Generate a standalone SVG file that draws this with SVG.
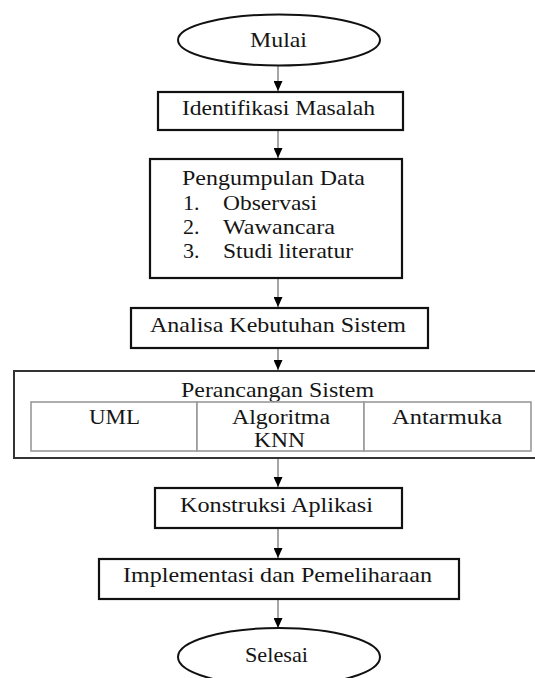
<svg xmlns="http://www.w3.org/2000/svg" width="535" height="678" viewBox="0 0 535 678">
<defs>
<marker id="ah" markerUnits="userSpaceOnUse" markerWidth="10" markerHeight="9" refX="10" refY="4.5" orient="auto">
<path d="M0,0 L10,4.5 L0,9 Z" fill="#000"/>
</marker>
<style>
.box{fill:#fff;stroke:#111;stroke-width:2.2}
.outer{fill:#fff;stroke:#333;stroke-width:2}
.cell{fill:#fff;stroke:#999;stroke-width:1.6}
.t{font-family:"Liberation Serif","Times New Roman",serif;font-size:22px;fill:#151515}
.s{font-size:20px}
.c{fill:none;stroke:#888;stroke-width:1.5;marker-end:url(#ah)}
</style>
</defs>
<rect width="535" height="678" fill="#fff"/>
<g id="connectors">
<line class="c" x1="278" y1="65" x2="278" y2="91"/>
<line class="c" x1="278" y1="131" x2="278" y2="158"/>
<line class="c" x1="278" y1="279" x2="278" y2="307"/>
<line class="c" x1="278" y1="349" x2="278" y2="370"/>
<line class="c" x1="278" y1="459" x2="278" y2="487"/>
<line class="c" x1="278" y1="529" x2="278" y2="558"/>
<line class="c" x1="278" y1="600" x2="278" y2="628"/>
</g>
<g id="mulai">
<ellipse cx="279" cy="40" rx="101" ry="25.5" fill="#fff" stroke="#111" stroke-width="2"/>
<text class="t" x="250" y="47" textLength="57" lengthAdjust="spacingAndGlyphs">Mulai</text>
</g>
<g id="identifikasi">
<rect class="box" x="158" y="92" width="245" height="38"/>
<text class="t" x="182" y="115" textLength="193" lengthAdjust="spacingAndGlyphs">Identifikasi Masalah</text>
</g>
<g id="pengumpulan">
<rect class="box" x="150" y="159" width="252" height="119"/>
<text class="t" x="182" y="185" textLength="183" lengthAdjust="spacingAndGlyphs">Pengumpulan Data</text>
<text class="t" x="183" y="210">1.</text>
<text class="t" x="223" y="210" textLength="94" lengthAdjust="spacingAndGlyphs">Observasi</text>
<text class="t" x="183" y="234">2.</text>
<text class="t" x="223" y="234" textLength="112" lengthAdjust="spacingAndGlyphs">Wawancara</text>
<text class="t" x="183" y="258">3.</text>
<text class="t" x="223" y="258" textLength="130" lengthAdjust="spacingAndGlyphs">Studi literatur</text>
</g>
<g id="analisa">
<rect class="box" x="131" y="308" width="297" height="40"/>
<text class="t" x="150" y="332" textLength="256" lengthAdjust="spacingAndGlyphs">Analisa Kebutuhan Sistem</text>
</g>
<g id="perancangan">
<rect class="outer" x="14" y="371" width="530" height="87"/>
<text class="t" x="181" y="397" textLength="193" lengthAdjust="spacingAndGlyphs">Perancangan Sistem</text>
<rect class="cell" x="31" y="402" width="166" height="49"/>
<rect class="cell" x="197" y="402" width="167" height="49"/>
<rect class="cell" x="364" y="402" width="167" height="49"/>
<text class="t s" x="89" y="424" textLength="51" lengthAdjust="spacingAndGlyphs">UML</text>
<text class="t s" x="232" y="424" textLength="98" lengthAdjust="spacingAndGlyphs">Algoritma</text>
<text class="t s" x="254" y="447" textLength="51" lengthAdjust="spacingAndGlyphs">KNN</text>
<text class="t s" x="392" y="424" textLength="110" lengthAdjust="spacingAndGlyphs">Antarmuka</text>
</g>
<g id="konstruksi">
<rect class="box" x="155" y="488" width="247" height="40"/>
<text class="t" x="180" y="512" textLength="193" lengthAdjust="spacingAndGlyphs">Konstruksi Aplikasi</text>
</g>
<g id="implementasi">
<rect class="box" x="99" y="559" width="360" height="40"/>
<text class="t" x="123" y="582" textLength="309" lengthAdjust="spacingAndGlyphs">Implementasi dan Pemeliharaan</text>
</g>
<g id="selesai">
<ellipse cx="279" cy="657" rx="101" ry="29" fill="#fff" stroke="#111" stroke-width="2"/>
<text class="t" x="245" y="662" textLength="63" lengthAdjust="spacingAndGlyphs">Selesai</text>
</g>
</svg>
